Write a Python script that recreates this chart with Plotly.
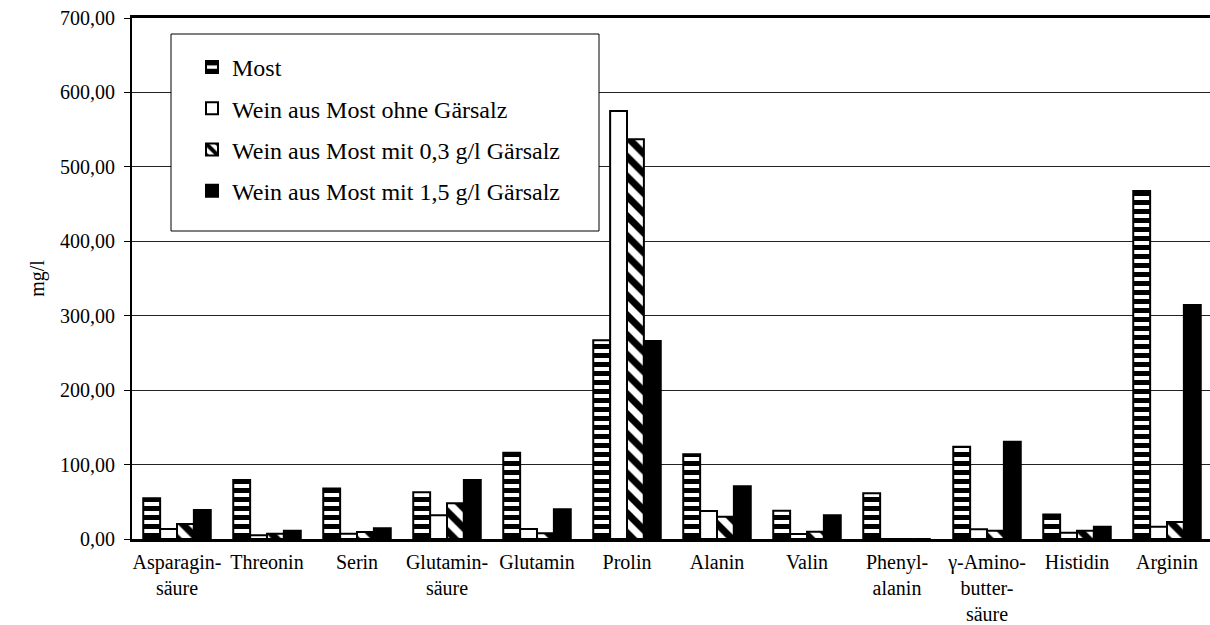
import plotly.graph_objects as go

# Amino acids (category labels, with manual line breaks)
categories = [
    "Asparagin-<br>säure", "Threonin", "Serin", "Glutamin-<br>säure", "Glutamin",
    "Prolin", "Alanin", "Valin", "Phenyl-<br>alanin",
    "γ-Amino-<br>butter-<br>säure", "Histidin", "Arginin",
]

# Concentrations in mg/l
most = [54.7, 79.3, 68.0, 62.7, 116.0, 267.0, 114.0, 38.0, 61.4, 124.0, 33.0, 467.5]
wein_ohne = [13.4, 5.0, 7.0, 32.0, 13.4, 575.0, 37.6, 6.7, 0.0, 13.0, 8.5, 16.5]
wein_03 = [20.2, 7.1, 9.4, 48.0, 7.7, 537.0, 30.0, 9.8, 0.0, 11.0, 11.0, 23.0]
wein_15 = [39.0, 11.0, 14.4, 79.3, 40.0, 266.0, 71.0, 32.0, 0.0, 130.7, 16.5, 314.4]

series_names = [
    "Most",
    "Wein aus Most ohne Gärsalz",
    "Wein aus Most mit 0,3 g/l Gärsalz",
    "Wein aus Most mit 1,5 g/l Gärsalz",
]

y_ticks = [0, 100, 200, 300, 400, 500, 600, 700]

FONT = "Liberation Serif, Times New Roman, serif"
x_pos = list(range(len(categories)))

patterns = [
    dict(shape="-", fgcolor="black", bgcolor="white", fgopacity=1, size=9, solidity=0.55),
    dict(shape="", fgcolor="black", bgcolor="white"),
    dict(shape="\\", fgcolor="black", bgcolor="white", fgopacity=1, size=14, solidity=0.5),
    dict(shape="", fgcolor="black", bgcolor="black"),
]
fills = ["white", "white", "white", "black"]

fig = go.Figure()
for i, (name, vals) in enumerate(zip(series_names, [most, wein_ohne, wein_03, wein_15])):
    fig.add_trace(go.Bar(
        x=x_pos, y=vals, name=name, legendgroup=f"g{i}",
        marker=dict(color=fills[i], pattern=patterns[i],
                    line=dict(color="black", width=2)),
    ))

W, H = 1210, 625
L, R, T, B = 132, 0, 18, 86
plot_w = W - L - R
plot_h = H - T - B

# legend frame (pixel box converted to paper coords)
box = dict(x0=171, x1=599, y0=34, y1=231)
fig.add_shape(
    type="rect", xref="paper", yref="paper", layer="above",
    x0=(box["x0"] - L) / plot_w, x1=(box["x1"] - L) / plot_w,
    y0=1 - (box["y1"] - T) / plot_h, y1=1 - (box["y0"] - T) / plot_h,
    line=dict(color="black", width=1), fillcolor="white",
)

fig.update_layout(
    width=W, height=H,
    margin=dict(l=L, r=R, t=T, b=B),
    paper_bgcolor="white", plot_bgcolor="white",
    barmode="group", bargap=0.25, bargroupgap=0,
    separators=", ",
    font=dict(family=FONT, color="black", size=20),
    showlegend=True,
    legend=dict(
        x=(192 - L) / plot_w, y=1 - (45 - T) / plot_h,
        xanchor="left", yanchor="top",
        bgcolor="rgba(0,0,0,0)", borderwidth=0,
        font=dict(family=FONT, size=24, color="black"),
        tracegroupgap=7, traceorder="grouped",
    ),
    xaxis=dict(
        tickmode="array", tickvals=x_pos, ticktext=categories,
        range=[-0.5, -0.5 + plot_w / 90.0],
        showline=True, linecolor="black", linewidth=3, mirror=True,
        ticks="", showgrid=False, zeroline=False,
        ticklabelstandoff=3, automargin=False,
        tickfont=dict(family=FONT, size=20),
    ),
    yaxis=dict(
        range=[0, 700], tickvals=y_ticks, tickformat=".2f",
        showline=True, linecolor="black", linewidth=2,
        ticks="outside", ticklen=6, tickcolor="black", tickwidth=1,
        showgrid=True, gridcolor="#222222", gridwidth=1, zeroline=False,
        ticklabelstandoff=5, automargin=False,
        tickfont=dict(family=FONT, size=20),
        title=dict(text="mg/l", font=dict(family=FONT, size=20), standoff=10),
    ),
)

fig.write_html("out.html")
